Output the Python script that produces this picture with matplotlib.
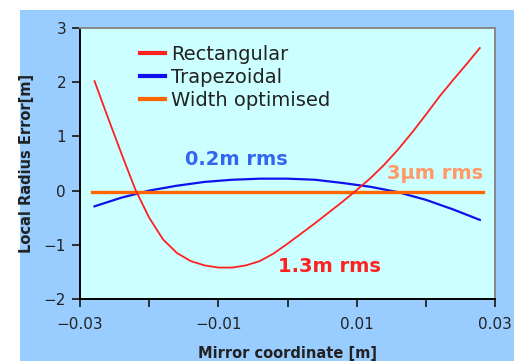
import matplotlib
matplotlib.use("Agg")
import matplotlib.pyplot as plt
from matplotlib.patches import Rectangle

# Data
x_rect = [-0.0279, -0.026, -0.024, -0.022, -0.020, -0.018, -0.016, -0.014, -0.012, -0.010,
          -0.008, -0.006, -0.004, -0.002, 0.000, 0.002, 0.004, 0.006, 0.008, 0.010,
          0.012, 0.014, 0.016, 0.018, 0.020, 0.022, 0.024, 0.026, 0.0278]
y_rect = [2.02, 1.36, 0.68, 0.02, -0.50, -0.90, -1.15, -1.30, -1.38, -1.42,
          -1.42, -1.38, -1.30, -1.16, -0.98, -0.79, -0.60, -0.40, -0.20, 0.01,
          0.23, 0.48, 0.76, 1.07, 1.40, 1.74, 2.05, 2.35, 2.63]

x_trap = [-0.0279, -0.024, -0.020, -0.016, -0.012, -0.008, -0.004, 0.000, 0.004, 0.008,
          0.012, 0.016, 0.020, 0.024, 0.0278]
y_trap = [-0.29, -0.13, 0.0, 0.09, 0.16, 0.20, 0.22, 0.22, 0.20, 0.14,
          0.07, -0.03, -0.17, -0.35, -0.54]

x_width = [-0.0283, 0.0283]
y_width = [-0.02, -0.02]

series_labels = ["Rectangular", "Trapezoidal", "Width optimised"]
annotations = [("0.2m rms", -0.0074, 0.58), ("1.3m rms", 0.0061, -1.40), ("3\u03bcm rms", 0.0214, 0.31)]
x_ticks = [-0.03, -0.02, -0.01, 0.0, 0.01, 0.02, 0.03]
x_tick_labels = ["\u22120.03", "", "\u22120.01", "", "0.01", "", "0.03"]
y_ticks = [-2, -1, 0, 1, 2, 3]
y_tick_labels = ["\u22122", "\u22121", "0", "1", "2", "3"]

W, H = 514, 361
fig = plt.figure(figsize=(W / 100, H / 100), dpi=100, facecolor="white")
fig.patches.append(Rectangle((20 / W, 0), 1 - 20 / W, 1 - 10 / H, transform=fig.transFigure,
                             facecolor="#99ccff", edgecolor="none", zorder=-10))

ax = fig.add_axes([80 / W, 1 - 299 / H, (495 - 80) / W, (299 - 28) / H])
ax.set_facecolor("#ccffff")

ax.plot(x_rect, y_rect, color="#ff2020", lw=1.3, label=series_labels[0], zorder=3)
ax.plot(x_trap, y_trap, color="#1010ee", lw=1.6, label=series_labels[1], zorder=2)
ax.plot(x_width, y_width, color="#ff6600", lw=2.4, label=series_labels[2], zorder=2.5)

ax.set_xlim(-0.03, 0.03)
ax.set_ylim(-2, 3)
ax.set_xticks(x_ticks)
ax.set_xticklabels(x_tick_labels)
ax.set_yticks(y_ticks)
ax.set_yticklabels(y_tick_labels)
ax.tick_params(axis="both", direction="out", length=6, width=1.3, labelsize=11,
               colors="#222222", pad=4)
ax.tick_params(axis="x", pad=7)

for s in ["left", "bottom"]:
    ax.spines[s].set_color("black")
    ax.spines[s].set_linewidth(1.4)
for s in ["top", "right"]:
    ax.spines[s].set_color("#888888")
    ax.spines[s].set_linewidth(1.4)

ax.set_ylabel("Local Radius Error[m]", fontsize=10.5, fontweight="bold", color="#222222", labelpad=7)
ax.set_xlabel("Mirror coordinate [m]", fontsize=10.5, fontweight="bold", color="#222222", labelpad=10)

leg = ax.legend(loc="upper left", bbox_to_anchor=(0.125, 0.965), frameon=False, fontsize=14,
                handlelength=1.3, handletextpad=0.3, labelspacing=0.2, borderaxespad=0)
for h in leg.get_lines():
    h.set_linewidth(3)
for t in leg.get_texts():
    t.set_color("#222222")

colors = ["#3366ee", "#ff2020", "#ff9966"]
for (txt, xx, yy), c in zip(annotations, colors):
    ax.text(xx, yy, txt, color=c, fontsize=14, fontweight="bold", ha="center", va="center")

fig.savefig("out.png", dpi=100, facecolor=fig.get_facecolor())
